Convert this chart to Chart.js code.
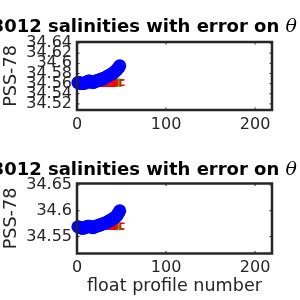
<!DOCTYPE html>
<html><head><meta charset="utf-8">
<script src="https://cdn.jsdelivr.net/npm/chart.js@4.4.0/dist/chart.umd.min.js"></script>
<style>
html,body{margin:0;padding:0;background:#fff;overflow:hidden;width:300px;height:300px}
canvas{position:absolute;left:0}
</style></head><body>
<canvas id="c1" width="300" height="150" style="top:0"></canvas>
<canvas id="c2" width="300" height="150" style="top:150px"></canvas>
<script>
// ---- data ----
const titleText = "3012 salinities with error on ";
const titleSymbol = "θ";
const yLabel = "PSS-78";
const xLabel = "float profile number";
const xTicks = [0, 100, 200];
const yTicksTop = [34.52, 34.54, 34.56, 34.58, 34.6, 34.62, 34.64];
const yTickLabelsTop = ["34.52", "34.54", "34.56", "34.58", "34.6", "34.62", "34.64"];
const yTicksBottom = [34.55, 34.6, 34.65];
const yTickLabelsBottom = ["34.55", "34.6", "34.65"];

const profilesFloat = [1,2,3,4,5,6,7,8,9,10,11,12,13,14,15,16,17,18,19,20,21,22,23,24,25,26,27,28,29,30,31,32,33,34,35,36,37,38,39,40,41,42,43,44,45,46,47,48];
const salTop = [34.562,34.562,34.561,34.561,34.560,34.560,34.560,34.561,34.561,34.562,
                34.563,34.564,34.565,34.565,34.564,34.563,34.563,34.562,34.563,34.564,
                34.565,34.565,34.566,34.566,34.567,34.568,34.568,34.569,34.570,34.570,
                34.571,34.572,34.573,34.574,34.575,34.576,34.577,34.578,34.579,34.580,
                34.581,34.583,34.584,34.586,34.588,34.590,34.592,34.595];
const salBottom = [34.569,34.568,34.568,34.567,34.567,34.566,34.566,34.567,34.567,34.568,
                   34.569,34.570,34.570,34.570,34.569,34.568,34.568,34.567,34.568,34.569,
                   34.570,34.570,34.571,34.571,34.572,34.573,34.573,34.574,34.575,34.575,
                   34.576,34.576,34.577,34.578,34.579,34.580,34.581,34.582,34.583,34.584,
                   34.585,34.586,34.588,34.589,34.591,34.594,34.597,34.600];

const profilesMapped = [1,2,3,4,5,6,7,8,9,10,11,12,13,14,15,16,17,18,19,20,21,22,23,24,25,26,27,28,29,30,31,32,33,34,35,36,37,38,39,40,41,42,43,44,45,46,47,48,49];
const mappedTop = [34.560,34.560,34.560,34.561,34.561,34.561,34.560,34.560,34.561,34.561,
                   34.561,34.561,34.562,34.562,34.561,34.561,34.561,34.561,34.561,34.561,
                   34.561,34.561,34.561,34.561,34.561,34.561,34.561,34.561,34.561,34.561,
                   34.561,34.561,34.561,34.561,34.561,34.561,34.561,34.561,34.561,34.561,
                   34.561,34.561,34.561,34.561,34.561,34.561,34.562,34.562,34.562];
const mappedErrTop = [0.0055,0.0055,0.0055,0.0055,0.0055,0.0055,0.0055,0.0055,0.0055,0.0055,
                      0.0055,0.0055,0.0055,0.0055,0.0055,0.0055,0.0055,0.0055,0.0055,0.0055,
                      0.0055,0.0055,0.0055,0.0055,0.0055,0.0055,0.0055,0.0055,0.0055,0.0055,
                      0.0055,0.0055,0.0055,0.0055,0.0055,0.0055,0.0055,0.0055,0.0055,0.0055,
                      0.0055,0.0055,0.0055,0.0055,0.0055,0.0055,0.0055,0.0055,0.0055];
const mappedBottom = [34.570,34.570,34.570,34.570,34.570,34.570,34.570,34.570,34.570,34.570,
                      34.570,34.570,34.570,34.570,34.570,34.570,34.570,34.570,34.570,34.570,
                      34.570,34.570,34.570,34.570,34.570,34.570,34.570,34.570,34.570,34.570,
                      34.570,34.570,34.570,34.570,34.570,34.570,34.570,34.570,34.570,34.570,
                      34.570,34.570,34.570,34.570,34.570,34.570,34.570,34.570,34.570];
const mappedErrBottom = mappedErrTop;

const profilesCal = [47];
const calTop = [34.562];
const calErrTop = [0.0075];
const calBottom = [34.5705];
const calErrBottom = [0.0075];

// ---- rendering ----
const INK = '#262626';
Chart.defaults.font.family = '"DejaVu Sans", sans-serif';
Chart.defaults.color = INK;

const errorBarPlugin = {
  id: 'errbars',
  afterDatasetDraw(chart, args) {
    const ds = chart.data.datasets[args.index];
    if (!ds.errors) return;
    const ctx = chart.ctx, xs = chart.scales.x, ys = chart.scales.y;
    ctx.save();
    ctx.strokeStyle = ds.borderColor;
    ctx.lineWidth = ds.errWidth || 1;
    ds.data.forEach((p, i) => {
      const e = ds.errors[i];
      const px = xs.getPixelForValue(p.x);
      const y1 = ys.getPixelForValue(p.y - e), y2 = ys.getPixelForValue(p.y + e);
      const cw = ds.capHalf;
      ctx.beginPath();
      ctx.moveTo(px, y1); ctx.lineTo(px, y2);
      ctx.moveTo(px - cw, y1); ctx.lineTo(px + cw, y1);
      ctx.moveTo(px - cw, y2); ctx.lineTo(px + cw, y2);
      ctx.stroke();
    });
    ctx.restore();
  }
};

const framePlugin = {
  id: 'frame',
  afterDraw(chart, args, opts) {
    const ctx = chart.ctx, a = chart.chartArea, xs = chart.scales.x, ys = chart.scales.y;
    ctx.save();
    ctx.strokeStyle = INK;
    ctx.lineWidth = 1;
    const tl = 2.5;
    ctx.beginPath();
    xs.ticks.forEach(t => {
      const px = xs.getPixelForValue(t.value);
      ctx.moveTo(px, a.bottom); ctx.lineTo(px, a.bottom - tl);
      ctx.moveTo(px, a.top); ctx.lineTo(px, a.top + tl);
    });
    ys.ticks.forEach(t => {
      const py = ys.getPixelForValue(t.value);
      ctx.moveTo(a.left, py); ctx.lineTo(a.left + tl, py);
      ctx.moveTo(a.right, py); ctx.lineTo(a.right - tl, py);
    });
    ctx.stroke();
    ctx.lineWidth = 2.5;
    ctx.strokeRect(a.left, a.top, a.right - a.left, a.bottom - a.top);
    // title
    ctx.fillStyle = '#000';
    ctx.textBaseline = 'alphabetic';
    ctx.font = 'italic 19px "DejaVu Serif", serif';
    const symW = ctx.measureText(titleSymbol).width;
    const xr = opts.titleRight;
    ctx.textAlign = 'right';
    ctx.fillText(titleSymbol, xr, opts.titleY);
    ctx.font = 'bold 18px "DejaVu Sans", sans-serif';
    ctx.fillText(titleText, xr - symW, opts.titleY);
    ctx.restore();
  }
};

function makeChart(id, cfg) {
  const ticksMap = {};
  cfg.yTicks.forEach((v, i) => ticksMap[v.toFixed(4)] = cfg.yTickLabels[i]);
  return new Chart(document.getElementById(id), {
    type: 'scatter',
    data: {
      datasets: [
        { label: 'float', data: profilesFloat.map((x, i) => ({x, y: cfg.sal[i]})),
          backgroundColor: '#0000ff', borderColor: '#0000ff', pointRadius: 6.5, pointBorderWidth: 0,
          showLine: false, order: 0, clip: false },
        { label: 'cal', data: profilesCal.map((x, i) => ({x, y: cfg.cal[i]})),
          borderColor: '#00ff00', backgroundColor: '#00ff00', pointRadius: 0, showLine: false,
          errors: cfg.calErr, capHalf: 2, errWidth: 1, order: 1 },
        { label: 'mapped', data: profilesMapped.map((x, i) => ({x, y: cfg.mapped[i]})),
          borderColor: '#ff0000', backgroundColor: '#ff0000', pointRadius: 0, showLine: true,
          borderWidth: 2, errors: cfg.mappedErr, capHalf: 4, errWidth: 1.2, order: 2, clip: false }
      ]
    },
    options: {
      responsive: false, animation: false, devicePixelRatio: 1,
      layout: { padding: { left: 0, right: 28, top: cfg.top, bottom: 0 } },
      plugins: { legend: { display: false }, tooltip: { enabled: false },
                 frame: { titleRight: 297, titleY: cfg.titleY } },
      scales: {
        x: {
          type: 'linear', min: 0, max: 219,
          afterBuildTicks: s => { s.ticks = xTicks.map(v => ({value: v})); },
          afterFit: s => { s.height = cfg.xh; },
          grid: { display: false, drawTicks: false },
          border: { display: false },
          ticks: { font: { size: 16 }, color: INK, padding: 5, maxRotation: 0, autoSkip: false,
                   callback: v => String(v) },
          title: { display: cfg.showX, text: xLabel, font: { size: 17.6 }, color: INK, padding: { top: 0, bottom: 3 } }
        },
        y: {
          type: 'linear', min: cfg.ymin, max: cfg.ymax,
          afterBuildTicks: s => { s.ticks = cfg.yTicks.map(v => ({value: v})); },
          afterFit: s => { s.width = 77; },
          grid: { display: false, drawTicks: false },
          border: { display: false },
          ticks: { font: { size: 16 }, color: INK, padding: 5, autoSkip: false,
                   callback: v => ticksMap[Number(v).toFixed(4)] },
          title: { display: true, text: yLabel, font: { size: 17.6 }, color: INK, padding: { top: 1, bottom: 0 } }
        }
      }
    },
    plugins: [errorBarPlugin, framePlugin]
  });
}

makeChart('c1', { sal: salTop, mapped: mappedTop, mappedErr: mappedErrTop, cal: calTop, calErr: calErrTop,
  yTicks: yTicksTop, yTickLabels: yTickLabelsTop, ymin: 34.508, ymax: 34.642,
  top: 42, xh: 40, showX: false, titleY: 32 });
makeChart('c2', { sal: salBottom, mapped: mappedBottom, mappedErr: mappedErrBottom, cal: calBottom, calErr: calErrBottom,
  yTicks: yTicksBottom, yTickLabels: yTickLabelsBottom, ymin: 34.517, ymax: 34.653,
  top: 33.5, xh: 46.5, showX: true, titleY: 25 });
</script>
</body></html>
